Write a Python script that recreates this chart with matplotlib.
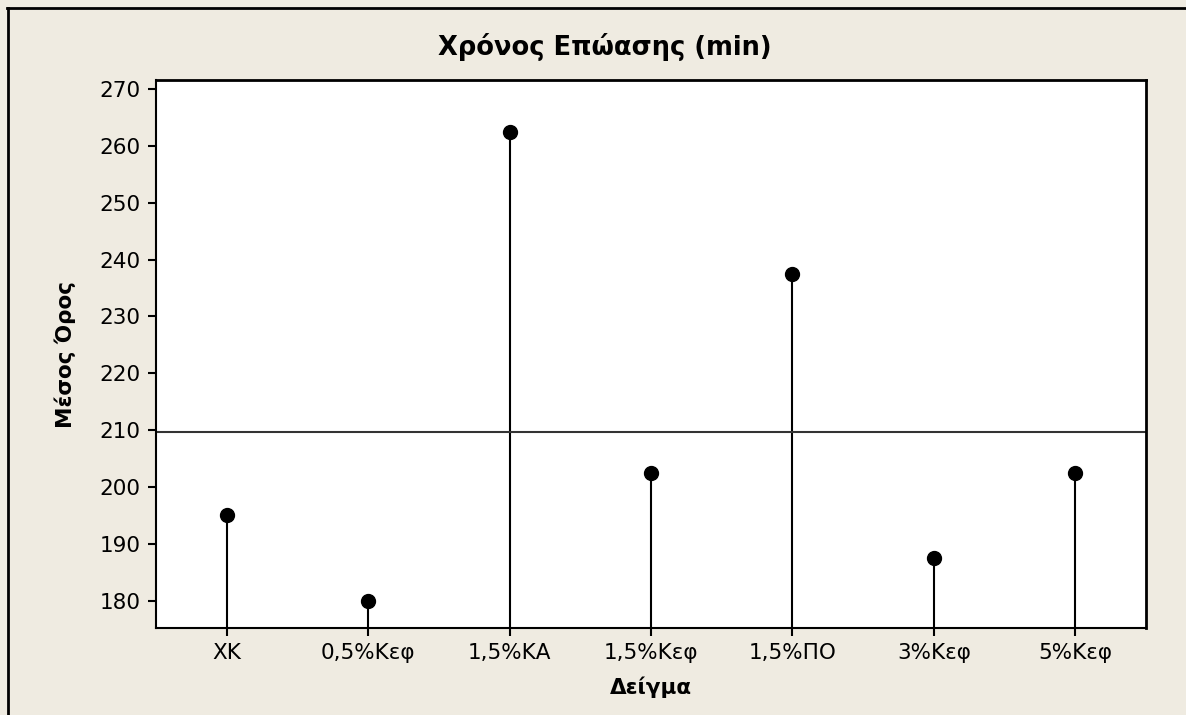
import matplotlib.pyplot as plt
from matplotlib.lines import Line2D
import numpy as np

# data
samples = ['ΧΚ', '0,5%Κεφ', '1,5%ΚΑ', '1,5%Κεφ', '1,5%ΠΟ', '3%Κεφ', '5%Κεφ']
means = [195.0, 180.0, 262.5, 202.5, 237.5, 187.5, 202.5]
y_ticks = [180, 190, 200, 210, 220, 230, 240, 250, 260, 270]

bg = '#EFEBE1'
plt.rcParams['font.family'] = ['DejaVu Sans']

fig = plt.figure(figsize=(11.86, 7.15), dpi=100, facecolor=bg)
W, H = 1186, 715
ax = fig.add_axes([156 / W, 1 - 628 / H, (1146 - 156) / W, (628 - 80) / H])
ax.set_facecolor('white')

x = np.arange(len(samples))
ymin, ymax = 175.2, 271.6
ax.set_xlim(-0.5, len(samples) - 0.5)
ax.set_ylim(ymin, ymax)

# stems + points
ax.vlines(x, ymin, means, color='black', linewidth=1.5)
ax.plot(x, means, 'o', color='black', markersize=10)

# overall mean reference line
ax.axhline(np.mean(means), color='#333333', linewidth=1.5)

ax.set_xticks(x)
ax.set_xticklabels(samples, fontsize=15.5)
ax.set_yticks(y_ticks)
ax.set_yticklabels([str(v) for v in y_ticks], fontsize=15.5)
ax.tick_params(direction='out', length=6, width=1.5, color='black', pad=5)

for s in ['top', 'right']:
    ax.spines[s].set_linewidth(2)
for s in ['left', 'bottom']:
    ax.spines[s].set_linewidth(1.5)

fig.text(651 / W, 1 - 687 / H, 'Δείγμα', fontsize=15.5, fontweight='bold',
         ha='center', va='center')
fig.text(65 / W, 1 - 354 / H, 'Μέσος Όρος', rotation=90, fontsize=15.5,
         fontweight='bold', ha='center', va='center')
fig.text(605 / W, 1 - 47 / H, 'Χρόνος Επώασης (min)', fontsize=18.5,
         fontweight='bold', ha='center', va='center')

# outer frame (top and left edges)
fig.add_artist(Line2D([7 / W, 1], [1 - 7.5 / H, 1 - 7.5 / H], color='black', linewidth=2))
fig.add_artist(Line2D([7.5 / W, 7.5 / W], [0, 1 - 7.5 / H], color='black', linewidth=2))

fig.savefig('out.png', dpi=100, facecolor=bg)
